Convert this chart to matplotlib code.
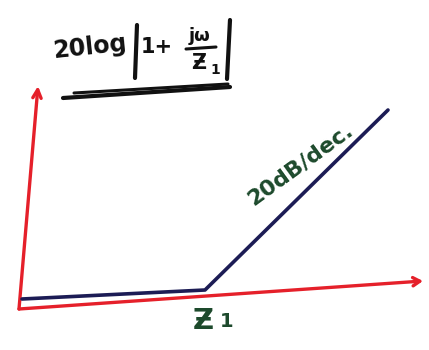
import matplotlib
matplotlib.use("Agg")
import matplotlib.pyplot as plt
from matplotlib.transforms import Affine2D

# Asymptotic Bode magnitude of a single zero: 20log|1 + jw/Z1|
log_freq = [-1.0, 0.0, 1.0]      # log10(w / Z1)
gain_db = [0.0, 0.0, 20.0]       # asymptote in dB
corner_label = "Ƶ"
slope_label = "20dB/dec."

RED = "#e5202a"
NAVY = "#1c1c55"
GREEN = "#1d4a2c"
INK = "#111111"

fig = plt.figure(figsize=(4.29, 3.5), dpi=100)
ax = fig.add_axes([0, 0, 1, 1])
ax.set_xlim(0, 429)
ax.set_ylim(350, 0)
ax.axis("off")

# sketch plane: one decade along x, dB upward, slightly tilted
bode = Affine2D().from_values(183, -9, 0, -8.55, 205, 290) + ax.transData

# hand-drawn axes
ax.annotate("", xy=(38, 86), xytext=(19, 309),
            arrowprops=dict(arrowstyle="->,head_length=0.6,head_width=0.3",
                            color=RED, lw=2.4, shrinkA=0, shrinkB=0))
ax.annotate("", xy=(423, 281), xytext=(19, 309),
            arrowprops=dict(arrowstyle="->,head_length=0.5,head_width=0.3",
                            color=RED, lw=2.4, shrinkA=0, shrinkB=0))

# asymptote
ax.plot(log_freq, gain_db, color=NAVY, lw=2.6, solid_capstyle="round",
        transform=bode, zorder=3)

# corner frequency label below the break
ax.text(-0.01, -2.0, corner_label, transform=bode, ha="center", va="top",
        fontsize=21, fontweight="bold", color=GREEN)
ax.text(0.08, -2.7, "1", transform=bode, ha="left", va="top",
        fontsize=14, fontweight="bold", color=GREEN)

# slope annotation along the rising line
ax.text(0.52, 14.2, slope_label, transform=bode, ha="center", va="center",
        rotation=36, rotation_mode="anchor", fontsize=16, fontweight="bold",
        color=GREEN)

# title expression 20log|1 + jw/Z1|
ax.text(90, 47, "20log", ha="center", va="center", fontsize=17,
        fontweight="bold", color=INK, rotation=6)
ax.plot([137, 135], [25, 78], color=INK, lw=3, solid_capstyle="round")
ax.text(157, 47, "1+", ha="center", va="center", fontsize=15,
        fontweight="bold", color=INK)
ax.text(200, 36, "jω", ha="center", va="center", fontsize=13,
        fontweight="bold", color=INK)
ax.plot([186, 216], [49, 47], color=INK, lw=2.2, solid_capstyle="round")
ax.text(199, 63, "Ƶ", ha="center", va="center", fontsize=15,
        fontweight="bold", color=INK)
ax.text(210, 70, "1", ha="left", va="center", fontsize=10,
        fontweight="bold", color=INK)
ax.plot([230, 227], [20, 79], color=INK, lw=3, solid_capstyle="round")

# double underline
ax.plot([63, 230], [98, 87], color=INK, lw=3, solid_capstyle="round")
ax.plot([74, 228], [93, 84], color=INK, lw=2.2, solid_capstyle="round")

fig.savefig("out.png", dpi=100, facecolor="white")
